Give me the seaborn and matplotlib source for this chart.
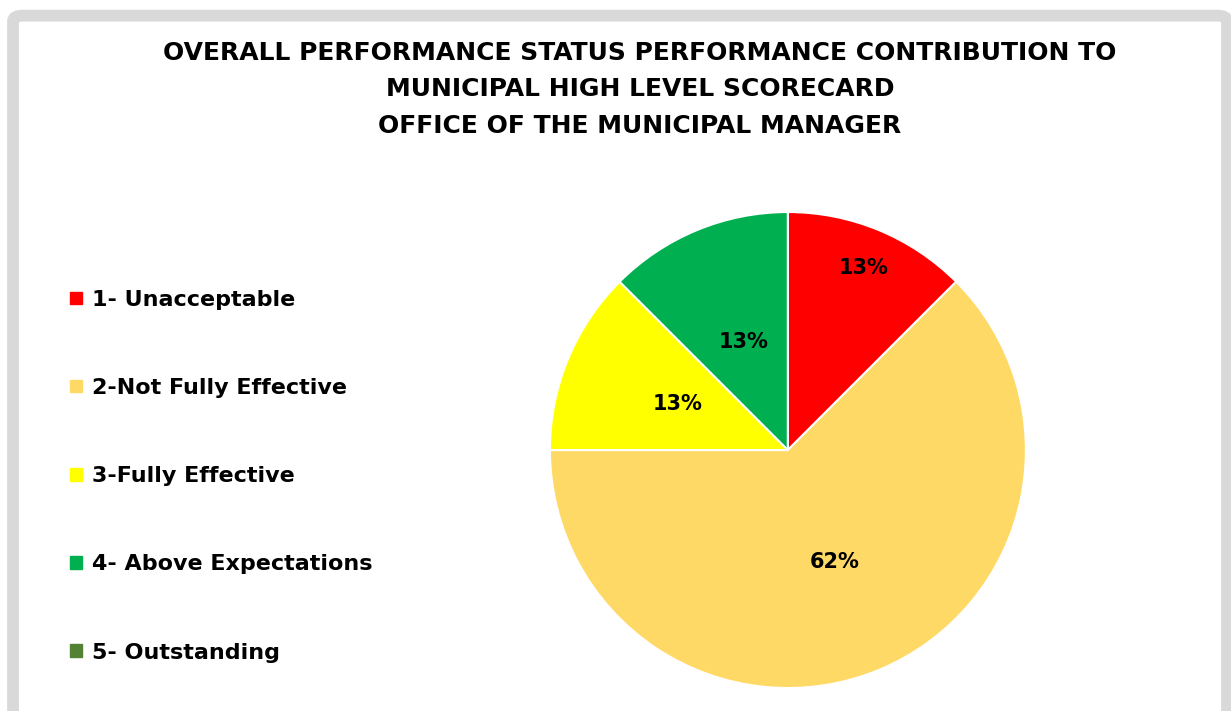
import matplotlib
matplotlib.use("Agg")
import matplotlib.pyplot as plt
import seaborn as sns
from matplotlib.patches import Patch, FancyBboxPatch
import numpy as np

# --- Data ---
categories = ["1- Unacceptable", "2-Not Fully Effective", "3-Fully Effective",
              "4- Above Expectations", "5- Outstanding"]
counts = [1, 5, 1, 1, 0]
pct_labels = ["13%", "62%", "13%", "13%", ""]
title_lines = ["OVERALL PERFORMANCE STATUS PERFORMANCE CONTRIBUTION TO",
               "MUNICIPAL HIGH LEVEL SCORECARD",
               "OFFICE OF THE MUNICIPAL MANAGER"]

colors = ["#FF0000", "#FFD966", "#FFFF00", "#00B050", "#548235"]

# --- Style ---
sns.set_theme(style="white")
plt.rcParams['font.family'] = ['DejaVu Sans']
plt.rcParams['font.weight'] = 'bold'
plt.rcParams['text.color'] = 'black'

fig = plt.figure(figsize=(12.31, 7.11), dpi=100)
fig.patch.set_facecolor("white")

# grey frame around the chart area
frame = FancyBboxPatch((0.0106, -0.05), 0.9862, 1.028,
                       boxstyle="round,pad=0,rounding_size=0.008",
                       transform=fig.transFigure, facecolor="none",
                       edgecolor="#D9D9D9", linewidth=8.5, zorder=0)
fig.patches.append(frame)

# title
title_y = [53, 89, 126]
for line, ypx in zip(title_lines, title_y):
    fig.text(0.52, 1 - ypx / 711, line, ha="center", va="center",
             fontsize=18, fontweight="bold", color="black")

# pie
ax = fig.add_axes([0.4467, 0.0323, 0.3867, 0.6695])
wedges, _ = ax.pie(counts, colors=colors, startangle=90, counterclock=False,
                   radius=1.0,
                   wedgeprops=dict(edgecolor="white", linewidth=1.5))
for w in wedges:
    w.set_clip_on(False)
ax.set_xlim(-1, 1)
ax.set_ylim(-1, 1)
ax.set_aspect("equal")
ax.axis("off")

# percentage labels inside wedges
label_dist = [0.83, 0.51, 0.5, 0.49, 0.5]
for w, lab, d in zip(wedges, pct_labels, label_dist):
    if not lab:
        continue
    ang = np.deg2rad((w.theta1 + w.theta2) / 2)
    ax.text(d * np.cos(ang), d * np.sin(ang), lab, ha="center", va="center",
            fontsize=15, fontweight="bold", color="black")

# legend on the left
handles = [Patch(facecolor=c, edgecolor=c) for c in colors]
leg = fig.legend(handles, categories, loc="upper left",
                 bbox_to_anchor=(0.05, 0.605), frameon=False,
                 fontsize=16, handlelength=0.5, handleheight=0.5,
                 handletextpad=0.45, labelspacing=3.07, borderaxespad=0)
for t in leg.get_texts():
    t.set_fontweight("bold")
    t.set_color("black")

fig.savefig("out.png", dpi=100)
